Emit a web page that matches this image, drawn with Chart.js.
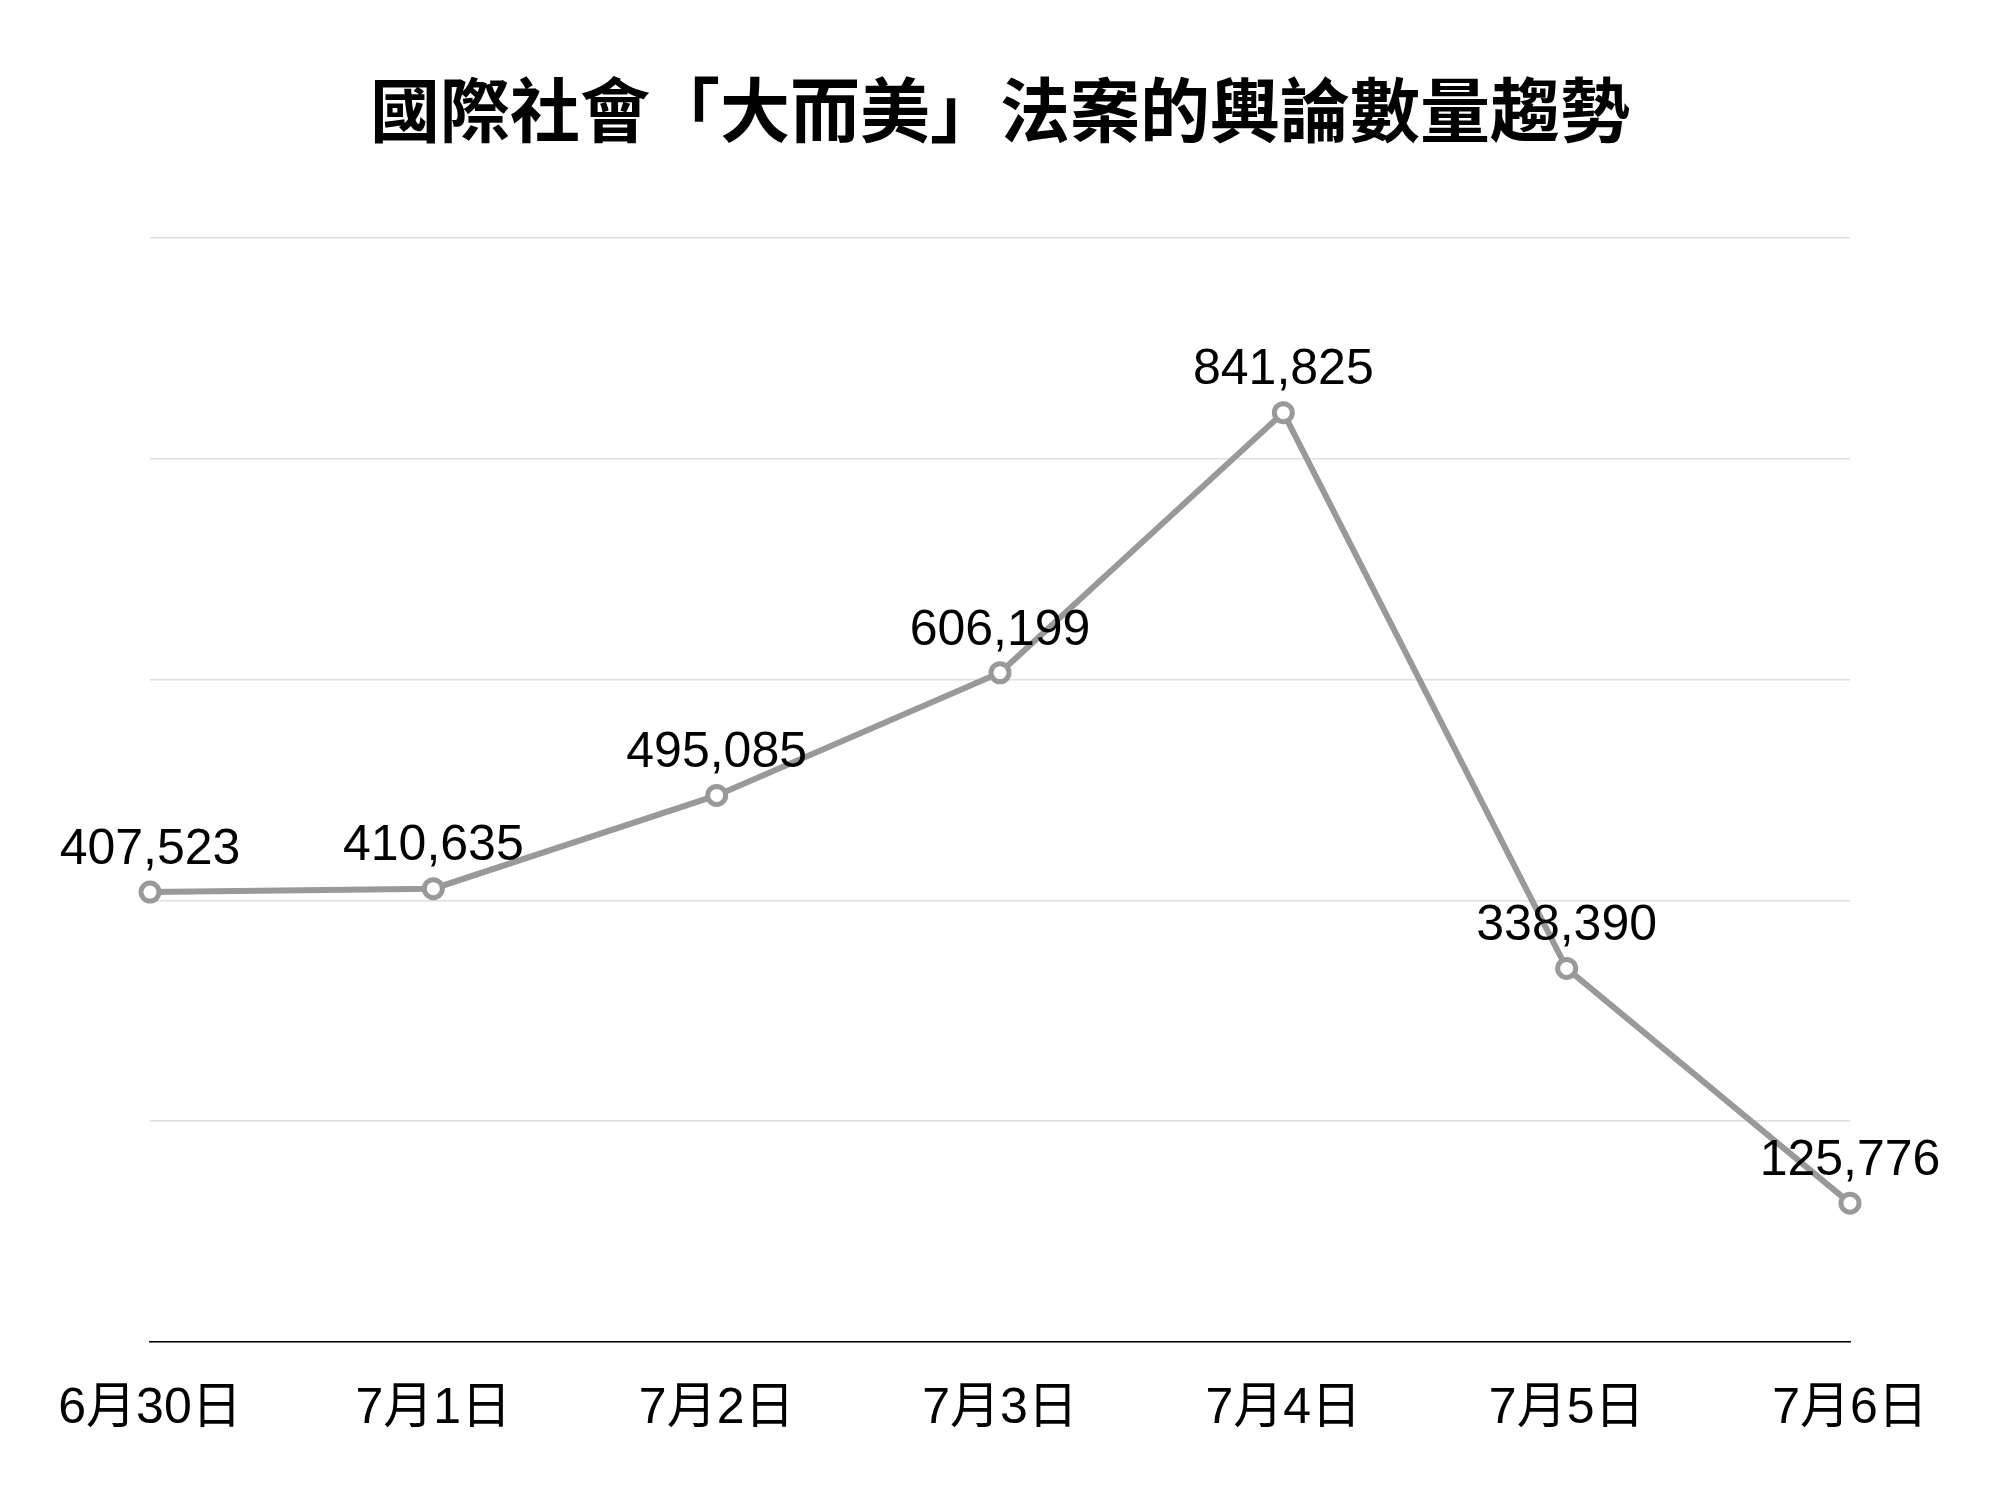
<!DOCTYPE html>
<html>

<head>
    <title>國際社會「大而美」法案的輿論數量趨勢</title>
    <meta charset="utf-8">
    <script src="https://cdn.jsdelivr.net/npm/chart.js@4.4.1/dist/chart.umd.min.js"></script>
    <style>
        body {
            background: #fff;
            margin: 0;
        }

        .wrap {
            width: 2000px;
            height: 1500px;
        }
    </style>
</head>

<body>
    <div class="wrap">
        <canvas id="trend-Chart" width="2000" height="1500"></canvas>
    </div>
    <script>
        // Data
        var dates = ['6月30日', '7月1日', '7月2日', '7月3日', '7月4日', '7月5日', '7月6日'];
        var counts = [407523, 410635, 495085, 606199, 841825, 338390, 125776];
        var yTicks = [0, 200000, 400000, 600000, 800000, 1000000];

        var latinFont = '"Liberation Sans", "Noto Sans CJK TC", sans-serif';

        // draws the number above each point
        var valueLabels = {
            id: 'valueLabels',
            afterDatasetsDraw(chart) {
                var ctx = chart.ctx;
                var meta = chart.getDatasetMeta(0);
                ctx.save();
                ctx.font = '50px ' + latinFont;
                ctx.fillStyle = '#000';
                ctx.textAlign = 'center';
                ctx.textBaseline = 'middle';
                meta.data.forEach((pt, i) => {
                    ctx.fillText(counts[i].toLocaleString('en-US'), pt.x, pt.y - 42);
                });
                ctx.restore();
            }
        };

        const config = {
            type: 'line',
            data: {
                labels: dates,
                datasets: [{
                    data: counts,
                    borderColor: '#999999',
                    borderWidth: 6,
                    pointRadius: 9,
                    pointBorderWidth: 5,
                    pointBackgroundColor: '#fff',
                    pointBorderColor: '#999999',
                    tension: 0
                }]
            },
            options: {
                responsive: false,
                animation: false,
                layout: { padding: { left: 150, right: 150, top: 0, bottom: 32 } },
                plugins: {
                    legend: { display: false },
                    tooltip: { enabled: false },
                    title: {
                        display: true,
                        text: '國際社會「大而美」法案的輿論數量趨勢',
                        color: '#000',
                        font: { family: '"Noto Sans CJK TC", serif', size: 70, weight: 'bold', lineHeight: 1.2 },
                        padding: { top: 68, bottom: 86 }
                    }
                },
                scales: {
                    x: {
                        offset: false,
                        grid: { display: false },
                        border: { display: true, color: '#000', width: 1.5 },
                        ticks: {
                            color: '#000',
                            font: { family: latinFont, size: 50 },
                            padding: 29,
                            maxRotation: 0,
                            autoSkip: false
                        }
                    },
                    y: {
                        min: 0,
                        max: 1000000,
                        afterBuildTicks: (scale) => { scale.ticks = yTicks.map(v => ({ value: v })); },
                        afterFit: (scale) => { scale.width = 0; },
                        grid: { color: '#dedede', lineWidth: 1.5, drawTicks: false },
                        border: { display: false },
                        ticks: { display: false }
                    }
                }
            },
            plugins: [valueLabels]
        };

        var trendChart = new Chart(document.getElementById('trend-Chart'), config);
    </script>
</body>

</html>
